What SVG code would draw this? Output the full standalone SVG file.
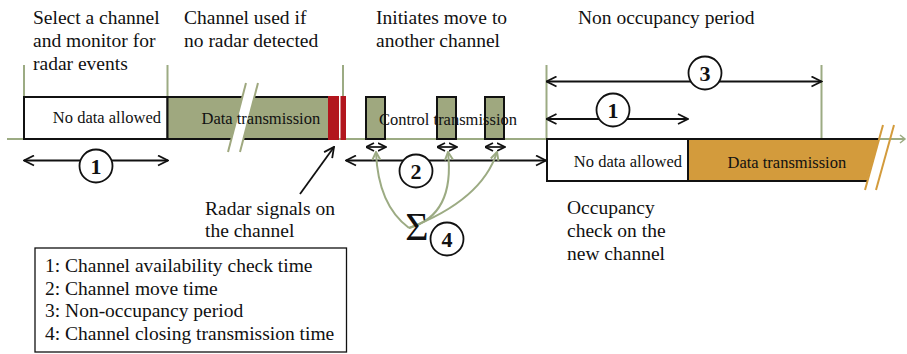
<svg xmlns="http://www.w3.org/2000/svg" width="907" height="354" viewBox="0 0 907 354">
  <style>
    .t { font-family: "Liberation Serif", "Times New Roman", serif; fill: #111; }
    .big { font-size: 19.5px; }
    .lbl { font-size: 16.5px; }
    .num { font-size: 22px; font-weight: bold; text-anchor: middle; }
    .tick { stroke: #9cab83; stroke-width: 2; fill: none; }
    .dim { stroke: #111; stroke-width: 1.8; fill: none; marker-start: url(#ah); marker-end: url(#ah); }
    .small { stroke: #111; stroke-width: 1.7; fill: none; marker-start: url(#ahs); marker-end: url(#ahs); }
    .curve { stroke: #9cab83; stroke-width: 2; fill: none; marker-end: url(#ahg); }
    .circ { fill: #fff; stroke: #111; stroke-width: 1.8; }
    .box { stroke: #111; stroke-width: 2; }
  </style>
  <defs>
    <marker id="ah" viewBox="0 0 12 12" refX="11" refY="6" markerWidth="12" markerHeight="12" markerUnits="userSpaceOnUse" orient="auto-start-reverse">
      <path d="M1,1 L11,6 L1,11" fill="none" stroke="#111" stroke-width="1.8"/>
    </marker>
    <marker id="ahs" viewBox="0 0 9 10" refX="8.5" refY="5" markerWidth="9" markerHeight="10" markerUnits="userSpaceOnUse" orient="auto-start-reverse">
      <path d="M0.5,1 L8.5,5 L0.5,9" fill="none" stroke="#111" stroke-width="1.7"/>
    </marker>
    <marker id="ahg" viewBox="0 0 10 10" refX="9" refY="5" markerWidth="10" markerHeight="10" markerUnits="userSpaceOnUse" orient="auto">
      <path d="M1,1 L9,5 L1,9" fill="none" stroke="#9cab83" stroke-width="2"/>
    </marker>
  </defs>

  <!-- headings -->
  <g id="headings">
    <text class="t big" x="33" y="24">Select a channel</text>
    <text class="t big" x="33" y="47">and monitor for</text>
    <text class="t big" x="33" y="70">radar events</text>
    <text class="t big" x="184" y="24">Channel used if</text>
    <text class="t big" x="184" y="47">no radar detected</text>
    <text class="t big" x="376" y="24">Initiates move to</text>
    <text class="t big" x="376" y="47">another channel</text>
    <text class="t big" x="578" y="24">Non occupancy period</text>
  </g>

  <!-- time axis and tick marks -->
  <g id="axis">
    <line class="tick" x1="7" y1="139" x2="905" y2="139"/>
    <path d="M900,135 L905,139 L900,143" fill="none" stroke="#9cab83" stroke-width="1.5"/>
    <line class="tick" x1="24" y1="65" x2="24" y2="97"/>
    <line class="tick" x1="167.5" y1="65" x2="167.5" y2="97"/>
    <line class="tick" x1="343" y1="65" x2="343" y2="97"/>
    <line class="tick" x1="546.5" y1="65" x2="546.5" y2="139"/>
    <line class="tick" x1="821.5" y1="65" x2="821.5" y2="139"/>
  </g>

  <!-- current channel: availability check -->
  <g id="cac-box">
    <rect class="box" x="24" y="97" width="143.5" height="42" fill="#fff"/>
    <text class="t lbl" x="161" y="123" text-anchor="end">No data allowed</text>
  </g>

  <!-- current channel: data transmission with break -->
  <g id="data-tx-1">
    <rect class="box" x="167.5" y="97" width="162" height="42" fill="#9fa87f"/>
    <polygon points="246,83 258,83 240,152 228,152" fill="#fff"/>
    <line x1="246" y1="83" x2="228" y2="152" stroke="#9fa87f" stroke-width="2"/>
    <line x1="258" y1="83" x2="240" y2="152" stroke="#9fa87f" stroke-width="2"/>
    <text class="t lbl" x="201.5" y="124">Data transmission</text>
  </g>

  <!-- radar pulses -->
  <g id="radar">
    <rect x="328" y="96" width="11" height="44" fill="#b2161d"/>
    <rect x="340.5" y="96" width="5.5" height="44" fill="#b2161d"/>
  </g>

  <!-- control transmissions -->
  <g id="control-tx">
    <rect class="box" x="366" y="97" width="19" height="42" fill="#9fa87f"/>
    <rect class="box" x="437" y="97" width="19" height="42" fill="#9fa87f"/>
    <rect class="box" x="485" y="97" width="19" height="42" fill="#9fa87f"/>
    <text class="t lbl" x="379" y="125">Control transmission</text>
  </g>

  <!-- new channel -->
  <g id="new-channel">
    <rect class="box" x="547" y="139" width="141" height="42" fill="#fff"/>
    <text class="t lbl" x="682" y="167" text-anchor="end">No data allowed</text>
    <polygon points="688,139 879,139 867,181 688,181" fill="#d39b3c"/>
    <line x1="688" y1="139" x2="879" y2="139" stroke="#111" stroke-width="2"/>
    <line x1="688" y1="181" x2="867" y2="181" stroke="#111" stroke-width="2"/>
    <line x1="688" y1="139" x2="688" y2="181" stroke="#111" stroke-width="2"/>
    <line x1="883" y1="125" x2="865" y2="190" stroke="#d39b3c" stroke-width="2"/>
    <line x1="894" y1="125" x2="876" y2="190" stroke="#d39b3c" stroke-width="2"/>
    <text class="t lbl" x="727.5" y="168">Data transmission</text>
  </g>

  <!-- connectors and dimension arrows -->
  <g id="connectors">
    <line class="dim" x1="24" y1="160.5" x2="168" y2="160.5"/>
    <line class="dim" x1="346" y1="160.5" x2="546" y2="160.5"/>
    <line class="dim" x1="546.5" y1="81.5" x2="821.5" y2="81.5"/>
    <line class="dim" x1="546.5" y1="119" x2="688" y2="119"/>
    <line class="small" x1="366" y1="147" x2="386" y2="147"/>
    <line class="small" x1="437" y1="147" x2="457" y2="147"/>
    <line class="small" x1="485" y1="147" x2="505" y2="147"/>
    <line x1="300" y1="194" x2="334" y2="147" stroke="#111" stroke-width="1.8" marker-end="url(#ah)"/>
    <path class="curve" d="M409,228 Q378,205 376,152"/>
    <path class="curve" d="M409,228 Q455,215 448,152"/>
    <path class="curve" d="M409,228 Q482,200 497,152"/>
  </g>

  <!-- numbered markers -->
  <g id="n1-left">
    <circle class="circ" cx="96" cy="166" r="16.5"/>
    <text class="t num" x="96" y="174">1</text>
  </g>
  <g id="n2">
    <circle class="circ" cx="416" cy="171" r="16.5"/>
    <text class="t num" x="416" y="179">2</text>
  </g>
  <g id="n3">
    <circle class="circ" cx="705" cy="73" r="16.5"/>
    <text class="t num" x="705" y="81">3</text>
  </g>
  <g id="n1-right">
    <circle class="circ" cx="613" cy="110" r="16.5"/>
    <text class="t num" x="613" y="118">1</text>
  </g>
  <g id="n4">
    <text class="t" x="417" y="240" font-size="40" text-anchor="middle">Σ</text>
    <circle class="circ" cx="447" cy="239" r="16.5"/>
    <text class="t num" x="447" y="247">4</text>
  </g>

  <!-- annotations -->
  <g id="radar-label">
    <text class="t big" x="205" y="215">Radar signals on</text>
    <text class="t big" x="205" y="237">the channel</text>
  </g>
  <g id="occupancy-label">
    <text class="t big" x="567" y="214">Occupancy</text>
    <text class="t big" x="567" y="237">check on the</text>
    <text class="t big" x="567" y="260">new channel</text>
  </g>

  <!-- legend -->
  <g id="legend">
    <rect x="35" y="248" width="311.5" height="104" fill="#fff" stroke="#111" stroke-width="1.3"/>
    <text class="t big" x="45" y="272">1: Channel availability check time</text>
    <text class="t big" x="45" y="294.5">2: Channel move time</text>
    <text class="t big" x="45" y="317">3: Non-occupancy period</text>
    <text class="t big" x="45" y="339.5">4: Channel closing transmission time</text>
  </g>
</svg>
